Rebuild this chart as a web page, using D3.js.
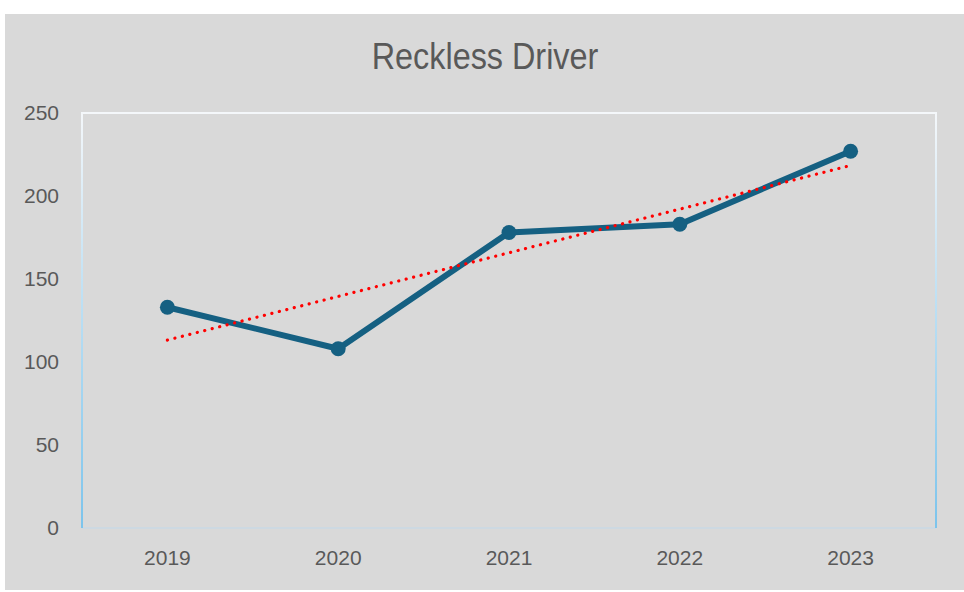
<!DOCTYPE html>
<html>
<head>
<meta charset="utf-8">
<script src="https://cdn.jsdelivr.net/npm/d3@7"></script>
<style>
  body { margin: 0; background: #ffffff; }
  svg { display: block; }
</style>
</head>
<body>
<div id="chart"></div>
<script>
const years = ['2019', '2020', '2021', '2022', '2023'];
const counts = [133, 108, 178, 183, 227];
const yTicks = [0, 50, 100, 150, 200, 250];

const W = 964, H = 592;
const plot = { left: 82, right: 936, top: 113, bottom: 528 };

const svg = d3.select('#chart').append('svg')
  .attr('width', W).attr('height', H);

// chart background
svg.append('rect')
  .attr('x', 5).attr('y', 14)
  .attr('width', W - 5).attr('height', 576)
  .attr('fill', '#d9d9d9');

const x = d3.scaleBand().domain(years).range([plot.left, plot.right]);
const y = d3.scaleLinear().domain([0, 250]).range([plot.bottom, plot.top]);

// plot area frame, sides fade from white to light blue
const defs = svg.append('defs');
const grad = defs.append('linearGradient')
  .attr('id', 'side').attr('x1', 0).attr('x2', 0).attr('y1', 0).attr('y2', 1);
grad.append('stop').attr('offset', '0%').attr('stop-color', '#f4f7fa');
grad.append('stop').attr('offset', '100%').attr('stop-color', '#7cc4ec');

const frame = svg.append('g').attr('id', 'frame');
frame.append('line')
  .attr('x1', plot.left).attr('x2', plot.right)
  .attr('y1', plot.top).attr('y2', plot.top)
  .attr('stroke', '#f4f7fa').attr('stroke-width', 2);
frame.append('line')
  .attr('x1', plot.left).attr('x2', plot.right)
  .attr('y1', plot.bottom).attr('y2', plot.bottom)
  .attr('stroke', '#c9d8e4').attr('stroke-width', 1.5);
[plot.left, plot.right].forEach(px => {
  frame.append('rect')
    .attr('x', px - 1).attr('y', plot.top - 1)
    .attr('width', 2).attr('height', plot.bottom - plot.top + 1)
    .attr('fill', 'url(#side)');
});

// title (narrow face squeezed from the regular one)
svg.append('text')
  .attr('transform', 'translate(485 69) scale(0.875 1)')
  .attr('text-anchor', 'middle')
  .attr('font-family', '"Liberation Sans", Arial, sans-serif')
  .attr('font-size', 37)
  .attr('fill', '#595959')
  .text('Reckless Driver');

// y axis labels
const yAxis = d3.axisLeft(y).tickValues(yTicks).tickSize(0).tickPadding(0);
svg.append('g')
  .attr('transform', 'translate(59 0)')
  .call(yAxis)
  .call(g => g.select('.domain').remove())
  .call(g => g.selectAll('text')
    .attr('fill', '#595959')
    .attr('font-family', '"Liberation Sans", Arial, sans-serif')
    .attr('font-size', 21));

// x axis labels
const xAxis = d3.axisBottom(x).tickSize(0).tickPadding(0);
svg.append('g')
  .attr('transform', `translate(0 ${plot.bottom + 22})`)
  .call(xAxis)
  .call(g => g.select('.domain').remove())
  .call(g => g.selectAll('text')
    .attr('fill', '#595959')
    .attr('font-family', '"Liberation Sans", Arial, sans-serif')
    .attr('font-size', 21));

const cx = d => x(d) + x.bandwidth() / 2;

// data line
const line = d3.line()
  .x((d, i) => cx(years[i]))
  .y(d => y(d));

svg.append('path')
  .datum(counts)
  .attr('d', line)
  .attr('fill', 'none')
  .attr('stroke', '#156082')
  .attr('stroke-width', 6)
  .attr('stroke-linejoin', 'round');

svg.append('g').selectAll('circle')
  .data(counts)
  .join('circle')
    .attr('cx', (d, i) => cx(years[i]))
    .attr('cy', d => y(d))
    .attr('r', 7.5)
    .attr('fill', '#156082');

// linear trend line (least squares over the series)
const xs = counts.map((d, i) => i + 1);
const mx = d3.mean(xs), my = d3.mean(counts);
const slope = d3.sum(xs, (v, i) => (v - mx) * (counts[i] - my)) / d3.sum(xs, v => (v - mx) ** 2);
const icpt = my - slope * mx;
const trend = xs.map(v => icpt + slope * v);

svg.append('path')
  .datum(trend)
  .attr('d', line)
  .attr('fill', 'none')
  .attr('stroke', '#ff0000')
  .attr('stroke-width', 3.2)
  .attr('stroke-linecap', 'round')
  .attr('stroke-dasharray', '0.1 7.6');
</script>
</body>
</html>
